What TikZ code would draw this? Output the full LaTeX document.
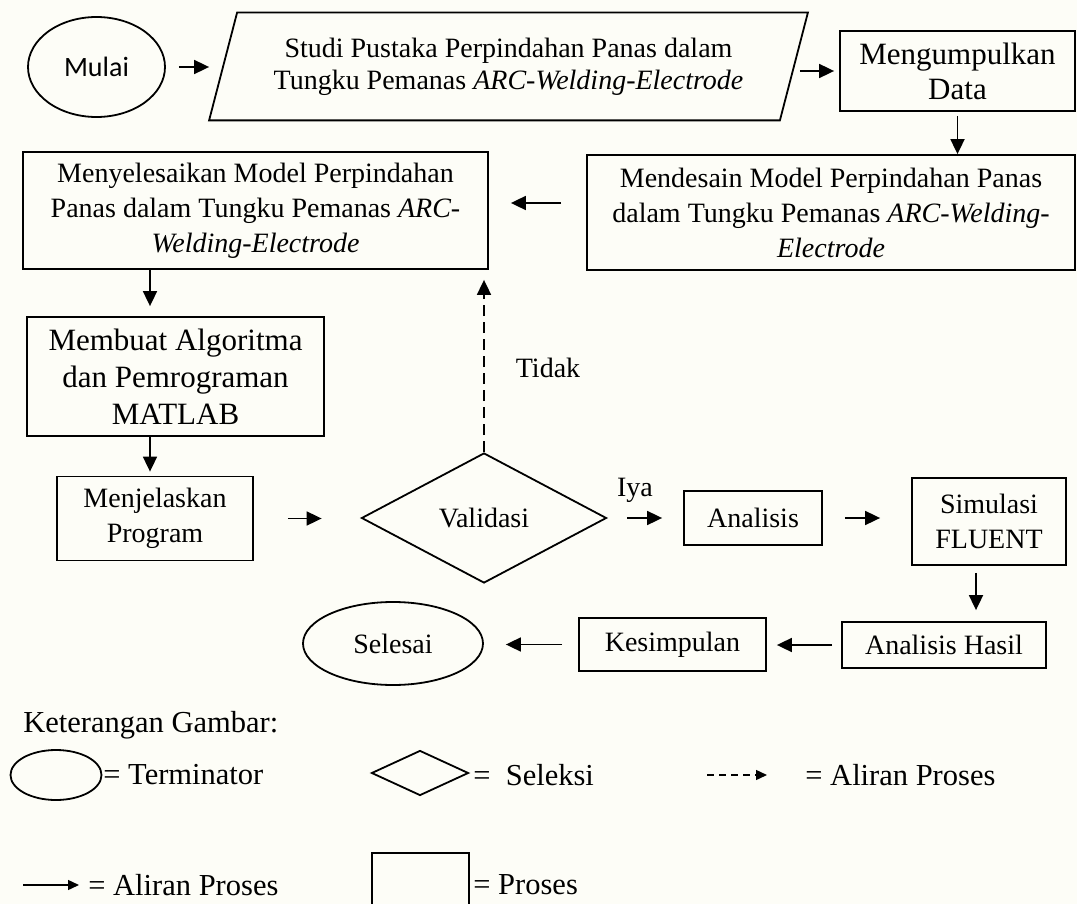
\documentclass[tikz,border=0pt]{standalone}
\usepackage{fontspec}
\setmainfont{Liberation Serif}
\newfontfamily\sansmulai{Carlito}
\usetikzlibrary{shapes.geometric,arrows.meta}
\definecolor{latar}{RGB}{253,253,247}

\begin{document}
\begin{tikzpicture}[x=0.5pt,y=-0.5pt,
	>={Triangle[length=7.5pt,width=7pt]},
	garis/.style={line width=0.9pt},
	proses/.style={draw,line width=0.9pt,rectangle,inner sep=0pt,align=center,font=\fontsize{14}{17.5}\selectfont},
	terminator/.style={draw,line width=0.9pt,ellipse,inner sep=0pt,font=\fontsize{14}{17.5}\selectfont},
	seleksi/.style={draw,line width=0.9pt,diamond,inner sep=0pt,font=\fontsize{14}{17.5}\selectfont},
	masukan/.style={inner sep=0pt,align=center,font=\fontsize{14}{16}\selectfont},
	alur/.style={->,line width=0.9pt},
	alurputus/.style={->,line width=0.9pt,dash pattern=on 5.5pt off 3pt},
	ket/.style={anchor=west,inner sep=0pt,font=\fontsize{15.25}{18}\selectfont}]
		\fill[latar] (0,0) rectangle (1077,904);
		\useasboundingbox (0,0) rectangle (1077,904);
		\node[terminator,minimum width=68.5pt,minimum height=50pt,font=\sansmulai\fontsize{14}{17}\selectfont] (mulai) at (96.5,67) {Mulai};
		\node[masukan,minimum width=285pt,minimum height=53.5pt] (studi) at (508.5,66.5) {Studi Pustaka Perpindahan Panas dalam\\Tungku Pemanas \textit{ARC-Welding-Electrode}};
		\draw[garis] ([xshift=7pt]studi.north west) -- ([xshift=7pt]studi.north east) -- ([xshift=-7pt]studi.south east) -- ([xshift=-7pt]studi.south west) -- cycle;
		\node[proses,minimum width=117.5pt,minimum height=40pt,font=\fontsize{15.5}{17.5}\selectfont] (data) at (957.5,71) {Mengumpulkan\\Data};
		\node[proses,minimum width=244pt,minimum height=57.5pt] (desain) at (831,212.5) {Mendesain Model Perpindahan Panas\\dalam Tungku Pemanas \textit{ARC-Welding-}\\\textit{Electrode}};
		\node[proses,minimum width=232.5pt,minimum height=58.5pt] (selesaikan) at (255.5,210.5) {Menyelesaikan Model Perpindahan\\Panas dalam Tungku Pemanas \textit{ARC-}\\\textit{Welding-Electrode}};
		\node[proses,minimum width=148.5pt,minimum height=59.5pt,font=\fontsize{15.5}{18.5}\selectfont] (algoritma) at (175.5,376.5) {Membuat Algoritma\\dan Pemrograman\\MATLAB};
		\node[proses,minimum width=98pt,minimum height=42pt] (jelaskan) at (155,518.5) {Menjelaskan\\Program};
		\node[seleksi,minimum width=122.5pt,minimum height=65pt] (validasi) at (484,518) {Validasi};
		\node[proses,minimum width=69pt,minimum height=27pt] (analisis) at (753,518) {Analisis};
		\node[proses,minimum width=77pt,minimum height=43.5pt] (simulasi) at (989,521.5) {Simulasi\\FLUENT};
		\node[proses,minimum width=102pt,minimum height=23pt] (hasil) at (944,645) {Analisis Hasil};
		\node[proses,minimum width=93.5pt,minimum height=26.5pt] (kesimpulan) at (672.5,644.5) {Kesimpulan};
		\node[terminator,minimum width=90pt,minimum height=41.5pt] (selesai) at (393,643.5) {Selesai};
		\node[font=\fontsize{14}{17}\selectfont,inner sep=0pt] (iya) at (635,490) {Iya};
		\node[font=\fontsize{14}{17}\selectfont,inner sep=0pt] (tidak) at (548,368) {Tidak};
		\coordinate (kiri) at ([yshift=4.75pt]desain.west);
		\coordinate (jalurA) at (150,0);
		\coordinate (jalurB) at (976,0);
		\draw[alur,shorten <=6.5pt,shorten >=7pt] (mulai.east) -- (mulai.east -| studi.west);
		\draw[alur,shorten <=3pt,shorten >=2.5pt] (studi.east |- data.west) -- (data.west);
		\draw[alur,shorten <=2pt] (data.south) -- (data.south |- desain.north);
		\draw[alur,shorten <=12.5pt,shorten >=11pt] (kiri) -- (kiri -| selesaikan.east);
		\draw[alur,shorten >=5pt] (selesaikan.south -| jalurA) -- (algoritma.north -| jalurA);
		\draw[alur,shorten >=2pt] (algoritma.south -| jalurA) -- (jelaskan.north -| jalurA);
		\draw[alur,shorten <=17pt,shorten >=19.5pt] (jelaskan.east) -- (jelaskan.east -| validasi.west);
		\draw[alurputus,shorten >=5pt] (validasi.north) -- (validasi.north |- selesaikan.south);
		\draw[alur,shorten <=10pt,shorten >=10.5pt] (validasi.east) -- (analisis.west);
		\draw[alur,shorten <=11pt,shorten >=15.5pt] (analisis.east) -- (analisis.east -| simulasi.west);
		\draw[alur,shorten <=3.5pt,shorten >=5.5pt] (simulasi.south -| jalurB) -- (hasil.north -| jalurB);
		\draw[alur,shorten <=4.5pt,shorten >=5pt] (hasil.west) -- (hasil.west -| kesimpulan.east);
		\draw[alur,shorten <=8pt,shorten >=11pt] (kesimpulan.west) -- (kesimpulan.west -| selesai.east);
		\node[ket] (keterangan) at (23,725) {Keterangan Gambar:};
		\node[terminator,minimum width=45.5pt,minimum height=25pt] (lgterm) at (56,775) {};
		\node[ket] (lgtermtxt) at (103,775) {= Terminator};
		\node[seleksi,minimum width=48.5pt,minimum height=22.5pt] (lgsel) at (420,773) {};
		\node[ket] (lgseltxt) at (473,775) {=\ \ Seleksi};
		\coordinate (lgputusA) at (707,775);
		\coordinate (lgputusB) at (767,775);
		\draw[->,line width=0.7pt,dash pattern=on 3.5pt off 2.5pt,>={Triangle[length=5.5pt,width=5pt]}] (lgputusA) -- (lgputusB);
		\node[ket] (lgputustxt) at (805,775) {= Aliran Proses};
		\coordinate (lgpanahA) at (23,885);
		\coordinate (lgpanahB) at (79,885);
		\draw[->,line width=0.7pt,>={Triangle[length=5.5pt,width=5pt]}] (lgpanahA) -- (lgpanahB);
		\node[ket] (lgpanahtxt) at (88,885) {= Aliran Proses};
		\draw[garis] (372,904) |- (469,853) -- (469,904);
		\node[ket] (lgprosestxt) at (473,885) {= Proses};
\end{tikzpicture}
\end{document}
